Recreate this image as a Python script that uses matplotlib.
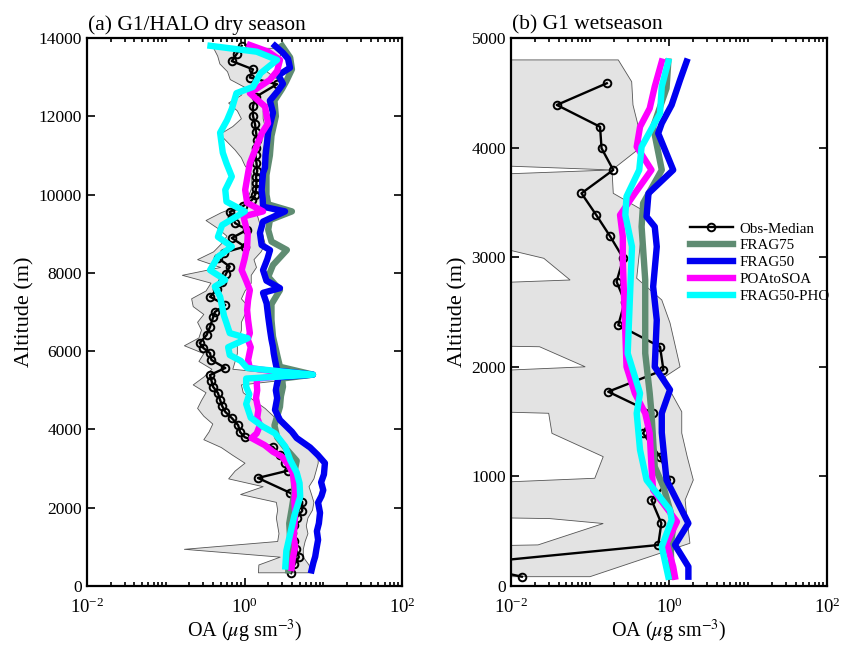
import numpy as np
import matplotlib
matplotlib.use("Agg")
import matplotlib.pyplot as plt
from matplotlib.ticker import FixedLocator, NullFormatter, LogFormatterSciNotation
from matplotlib.lines import Line2D

plt.rcParams['font.family'] = ['Liberation Serif', 'DejaVu Serif']
plt.rcParams['mathtext.fontset'] = 'stix'

# ---------------- Panel (a): G1/HALO dry season ----------------
obsA_alt = [330, 550, 740, 950, 1150, 1350, 1550, 1750, 1920, 2150, 2380, 2760, 2950, 3150, 3350, 3550,
            3800, 3930, 4110, 4290, 4450, 4600, 4750, 4930, 5085, 5250, 5390, 5570, 5775, 5950, 6080,
            6210, 6410, 6620, 6870, 7000, 7180, 7390, 7580, 7775, 7970, 8160, 8380, 8520, 8670, 8890,
            9100, 9270, 9420, 9560, 9700, 9860, 9990, 10150, 10300, 10450, 10600, 10800, 11000, 11200,
            11400, 11600, 11800, 12010, 12260, 12500, 12820, 12990, 13200, 13410, 13600, 13800]
obsA_val = [3.9, 4.3, 4.9, 4.5, 4.2, 4.0, 4.2, 4.6, 5.4, 5.4, 3.8, 1.48, 3.6, 3.3, 2.8, 2.3,
            1.01, 0.88, 0.83, 0.69, 0.57, 0.52, 0.49, 0.46, 0.40, 0.38, 0.365, 0.57, 0.38, 0.365, 0.30,
            0.27, 0.33, 0.365, 0.40, 0.42, 0.57, 0.365, 0.45, 0.52, 0.58, 0.65, 0.46, 0.55, 1.01, 0.69,
            1.08, 0.76, 0.70, 0.65, 0.95, 1.24, 1.36, 1.40, 1.42, 1.40, 1.45, 1.42, 1.38, 1.42,
            1.45, 1.40, 1.36, 1.28, 1.28, 1.40, 2.59, 1.17, 1.28, 0.69, 0.80, 0.92]

bandA_alt = [350, 550, 750, 950, 1150, 1350, 1550, 1750, 1950, 2150, 2350, 2550, 2750, 2950, 3150, 3350,
             3550, 3750, 3950, 4150, 4350, 4550, 4750, 4950, 5150, 5350, 5550, 5750, 5950, 6150, 6350,
             6550, 6750, 6950, 7150, 7350, 7550, 7750, 7950, 8150, 8350, 8550, 8750, 8950, 9150, 9350,
             9550, 9750, 9950, 10150, 10350, 10550, 10750, 10950, 11150, 11350, 11550, 11750, 11950,
             12150, 12350, 12550, 12750, 12950, 13150, 13350, 13550, 13750]
bandA_low = [1.48, 1.5, 2.8, 0.17, 2.6, 2.7, 2.6, 2.5, 2.6, 2.5, 0.88, 1.7, 0.62, 0.75, 1.0, 0.7,
             0.5, 0.30, 0.35, 0.39, 0.30, 0.25, 0.28, 0.32, 0.22, 0.30, 0.38, 0.26, 0.30, 0.17, 0.26,
             0.28, 0.25, 0.30, 0.22, 0.21, 0.32, 0.37, 0.16, 0.49, 0.25, 0.40, 0.50, 0.59, 0.45, 0.32,
             0.50, 0.90, 1.1, 1.2, 1.2, 1.2, 1.0, 0.9, 0.75, 0.6, 0.48, 0.7, 0.9,
             0.8, 0.62, 0.9, 1.0, 0.65, 0.6, 0.48, 0.45, 0.40]
bandA_high = [7.0, 6.5, 5.5, 5.5, 5.8, 6.3, 6.0, 6.3, 7.2, 7.5, 7.0, 6.5, 7.5, 8.0, 8.5, 8.5,
              6.0, 4.5, 4.0, 3.0, 2.3, 1.8, 1.3, 0.95, 0.9, 7.2, 0.7, 0.75, 0.8, 0.8, 0.85,
              0.9, 0.9, 1.0, 1.1, 0.9, 1.0, 1.2, 1.2, 1.4, 1.3, 1.6, 1.8, 1.7, 1.6, 1.5,
              1.4, 1.6, 1.8, 1.9, 1.9, 1.8, 1.8, 1.7, 1.7, 1.8, 1.8, 1.8, 1.7,
              1.7, 2.0, 2.2, 3.0, 2.6, 1.9, 2.3, 2.8, 3.0]

frag75A_alt = [400, 800, 1200, 1600, 2000, 2400, 2800, 3200, 3500, 3800, 4100, 4580, 4850, 5090, 5300,
               5400, 5600, 5900, 6370, 6800, 7200, 7560, 7900, 8200, 8585, 8800, 9100, 9350, 9570,
               9750, 10000, 10500, 11000, 11500, 12000, 12400, 12700, 12900, 13200, 13500, 13800]
frag75A_val = [3.6, 3.7, 3.8, 3.7, 4.0, 4.3, 4.2, 4.6, 3.4, 2.6, 2.4, 2.82, 2.9, 3.08, 3.0,
               7.4, 2.82, 2.6, 2.30, 2.2, 2.2, 2.82, 2.0, 2.3, 3.45, 2.2, 2.0, 2.1, 4.0,
               2.0, 1.9, 1.9, 2.1, 2.2, 2.5, 2.4, 3.0, 3.4, 4.0, 3.8, 3.0]

frag50A_alt = [400, 600, 750, 950, 1180, 1400, 1600, 1870, 2130, 2300, 2450, 2650, 2850, 3140, 3350,
               3540, 3780, 3940, 4240, 4500, 4800, 5000, 5180, 5330, 5400, 5500, 5770, 5950, 6110,
               6300, 6540, 6880, 7220, 7490, 7610, 7800, 8070, 8350, 8580, 8710, 9020, 9310, 9570,
               9690, 9900, 10120, 10550, 10690, 11000, 11240, 11600, 12090, 12400, 12650, 12830,
               13050, 13240, 13470, 13620, 13800]
frag50A_val = [7.1, 7.5, 7.9, 8.2, 8.6, 8.3, 8.8, 9.1, 8.6, 9.5, 10.0, 9.4, 10.2, 10.5, 8.5,
               6.8, 4.6, 4.0, 2.82, 2.44, 2.6, 2.5, 2.6, 2.7, 7.4, 2.6, 2.44, 2.35, 2.3,
               2.2, 2.11, 2.0, 1.91, 1.72, 2.82, 1.9, 1.72, 1.95, 2.11, 1.65, 1.57, 1.72, 3.27,
               1.72, 1.7, 1.65, 1.72, 1.82, 1.85, 1.91, 2.0, 2.30, 2.1, 2.66, 3.08,
               2.7, 3.78, 3.57, 3.08, 2.44]

poaA_alt = [460, 700, 1000, 1250, 1500, 1870, 2150, 2450, 2890, 3100, 3300, 3430, 3600, 3780, 3900,
            4110, 4300, 4500, 4800, 5000, 5180, 5300, 5400, 5570, 5770, 6100, 6300, 6460, 6800,
            7050, 7300, 7560, 7800, 8070, 8350, 8670, 9000, 9440, 9570, 9790, 10120, 10550, 10800,
            11200, 11570, 11820, 12250, 12590, 12930, 13160, 13440, 13650, 13820]
poaA_val = [3.97, 4.1, 4.4, 4.2, 4.3, 4.4, 4.3, 4.4, 4.1, 3.6, 3.0, 2.3, 1.8, 1.23, 1.43,
            1.57, 1.45, 1.5, 1.4, 1.45, 1.43, 1.45, 4.6, 1.17, 1.11, 1.2, 1.1, 1.17, 1.11,
            1.08, 1.11, 1.17, 1.05, 0.92, 1.0, 1.08, 1.1, 0.97, 1.72, 1.08, 1.02, 1.11, 1.17,
            1.4, 1.66, 1.99, 1.82, 1.17, 2.1, 2.6, 2.82, 2.0, 1.17]

phoA_alt = [500, 900, 1430, 1800, 2280, 2630, 2900, 3220, 3560, 3900, 4070, 4300, 4650, 4900, 5090,
            5300, 5400, 5570, 5750, 5900, 6100, 6330, 6460, 6720, 6900, 7050, 7390, 7650, 7820,
            8070, 8410, 8670, 8920, 9220, 9570, 9820, 10120, 10460, 10800, 11070, 11580, 11900,
            12190, 12590, 12750, 13100, 13440, 13650, 13800]
phoA_val = [3.3, 3.4, 3.9, 4.3, 5.1, 5.0, 4.6, 3.8, 3.3, 2.44, 1.72, 1.2, 1.05, 1.15, 1.05,
            1.05, 7.4, 1.08, 0.9, 0.65, 0.62, 1.1, 0.65, 0.59, 0.55, 0.53, 0.49, 0.42, 0.57,
            0.365, 0.46, 0.69, 0.46, 0.52, 1.01, 0.59, 0.57, 0.69, 0.59, 0.53, 0.49, 0.6,
            0.69, 0.79, 1.28, 1.6, 2.59, 1.43, 0.37]

# ---------------- Panel (b): G1 wet season ----------------
obsB_alt = [85, 200, 374, 572, 785, 967, 1180, 1393, 1576, 1773, 1971, 2183, 2381, 2594, 2777, 2990,
            3190, 3385, 3583, 3796, 3994, 4190, 4389, 4587]
obsB_val = [0.0137, 0.0025, 0.73, 0.80, 0.60, 1.03, 0.77, 0.47, 0.63, 0.17, 0.85, 0.77, 0.228, 0.276,
            0.217, 0.264, 0.18, 0.12, 0.078, 0.197, 0.14, 0.134, 0.038, 0.163]

# band outline: right (upper) edge bottom->top, left (lower) edge top->bottom
bandB_right_alt = [85, 390, 600, 785, 967, 1180, 1395, 1590, 1800, 1910, 2000, 2400, 2610, 2808, 3100,
                   3415, 3583, 3796, 4008, 4190, 4389, 4601, 4800]
bandB_right_val = [0.10, 1.84, 1.7, 1.6, 2.03, 1.7, 1.45, 1.45, 1.0, 0.89, 1.38, 1.03, 0.81, 0.39, 0.43,
                   0.50, 0.197, 0.19, 0.45, 0.41, 0.35, 0.337, 0.228]
bandB_left_alt = [4800, 3857, 3796, 3735, 3233, 2990, 2792, 2746, 2199, 2183, 2000, 1940, 1605, 1576,
                  1393, 1180, 983, 921, 632, 615, 570, 375, 358, 85]
bandB_left_val = [0.001, 0.001, 0.19, 0.001, 0.001, 0.026, 0.056, 0.001, 0.001, 0.023, 0.087, 0.001,
                  0.001, 0.03, 0.033, 0.147, 0.115, 0.001, 0.001, 0.031, 0.147, 0.022, 0.001, 0.001]

frag75B_alt = [85, 374, 572, 906, 1088, 1576, 1758, 2123, 2792, 3278, 3492, 3796, 4190, 4541, 4785]
frag75B_val = [1.08, 1.05, 1.15, 0.85, 0.66, 0.60, 0.57, 0.50, 0.50, 0.45, 0.47, 0.81, 0.63, 0.93, 0.98]

frag50B_alt = [85, 176, 374, 572, 967, 1400, 1576, 1790, 2000, 2427, 2731, 3096, 3278, 3370, 3583,
               3796, 4130, 4222, 4389, 4617, 4785]
frag50B_val = [1.76, 1.76, 1.19, 1.76, 0.93, 0.81, 0.81, 1.03, 0.66, 0.70, 0.63, 0.70, 0.66, 0.52, 0.55,
               1.13, 0.73, 0.81, 1.08, 1.38, 1.67]

poaB_alt = [85, 176, 390, 587, 876, 1088, 1393, 1576, 1758, 2000, 2975, 3187, 3385, 3583, 3796, 4008,
            4190, 4358, 4557, 4785]
poaB_val = [1.19, 1.13, 0.93, 1.26, 0.63, 0.60, 0.57, 0.50, 0.37, 0.29, 0.26, 0.26, 0.24, 0.37, 0.60,
            0.39, 0.43, 0.57, 0.66, 0.81]

phoB_alt = [85, 358, 602, 693, 967, 1241, 1576, 1758, 2123, 3096, 3385, 3554, 3796, 4008, 4313, 4557, 4785]
phoB_val = [0.98, 0.81, 1.08, 1.03, 0.52, 0.43, 0.39, 0.43, 0.30, 0.34, 0.28, 0.29, 0.42, 0.45, 0.77,
            0.81, 0.98]

series_names = ['Obs-Median', 'FRAG75', 'FRAG50', 'POAtoSOA', 'FRAG50-PHO']
series_colors = ['black', '#5f8c72', '#0000f0', '#ff00ff', '#00ffff']

xlabel = r'OA ($\mu$g sm$^{-3}$)'

fig = plt.figure(figsize=(8.43, 6.46), dpi=100)
ax1 = fig.add_axes([87 / 843, 60 / 646, 315 / 843, 548 / 646])
ax2 = fig.add_axes([511 / 843, 60 / 646, 316 / 843, 548 / 646])

LW = 4.6
band_face = '#e3e3e3'
band_edge = '#555555'
obs_style = dict(color='black', lw=1.7, marker='o', ms=5.5, mfc='none', mec='black', mew=1.4)

# Panel (a)
ax1.fill_betweenx(bandA_alt, bandA_low, bandA_high, facecolor=band_face, edgecolor=band_edge, linewidth=0.6, zorder=1)
ax1.plot(obsA_val, obsA_alt, zorder=2, **obs_style)
ax1.plot(frag75A_val, frag75A_alt, color=series_colors[1], lw=LW, zorder=3)
ax1.plot(frag50A_val, frag50A_alt, color=series_colors[2], lw=LW, zorder=4)
ax1.plot(poaA_val, poaA_alt, color=series_colors[3], lw=LW, zorder=5)
ax1.plot(phoA_val, phoA_alt, color=series_colors[4], lw=LW, zorder=6)

# Panel (b)
bx = bandB_right_val + bandB_left_val
by = bandB_right_alt + bandB_left_alt
ax2.fill(bx, by, facecolor=band_face, edgecolor=band_edge, linewidth=0.6, zorder=1)
ax2.plot(obsB_val, obsB_alt, zorder=2, **obs_style)
ax2.plot(frag75B_val, frag75B_alt, color=series_colors[1], lw=LW, zorder=3)
ax2.plot(frag50B_val, frag50B_alt, color=series_colors[2], lw=LW, zorder=4)
ax2.plot(poaB_val, poaB_alt, color=series_colors[3], lw=LW, zorder=5)
ax2.plot(phoB_val, phoB_alt, color=series_colors[4], lw=LW, zorder=6)

for ax, ymax, ystep in [(ax1, 14000, 2000), (ax2, 5000, 1000)]:
    ax.set_xscale('log')
    ax.set_xlim(1e-2, 1e2)
    ax.set_ylim(0, ymax)
    ax.xaxis.set_major_locator(FixedLocator([1e-2, 1e0, 1e2]))
    ax.xaxis.set_major_formatter(LogFormatterSciNotation())
    minors = [m * 10.0 ** e for e in range(-2, 2) for m in range(1, 10) if not (m == 1 and e % 2 == 0)]
    ax.xaxis.set_minor_locator(FixedLocator(minors))
    ax.xaxis.set_minor_formatter(NullFormatter())
    ax.set_yticks(np.arange(0, ymax + 1, ystep))
    ax.tick_params(which='both', direction='in', top=True, right=True, width=1.2)
    ax.tick_params(axis='y', labelsize=12.5)
    ax.tick_params(axis='x', labelsize=13.5, pad=8)
    ax.tick_params(which='major', length=6)
    ax.tick_params(which='minor', length=3)
    for s in ax.spines.values():
        s.set_linewidth(1.6)
    ax.set_xlabel(xlabel, fontsize=14.5, labelpad=1)
    ax.set_ylabel('Altitude (m)', fontsize=16, labelpad=3)

ax1.text(0.003, 1.006, '(a) G1/HALO dry season', transform=ax1.transAxes, ha='left', va='bottom', fontsize=15.5)
ax2.text(0.003, 1.006, '(b) G1 wetseason', transform=ax2.transAxes, ha='left', va='bottom', fontsize=15.5)

handles = [Line2D([], [], **obs_style)]
for c in series_colors[1:]:
    handles.append(Line2D([], [], color=c, lw=LW))
ax2.legend(handles, series_names, loc='upper left', bbox_to_anchor=(0.565, 0.664), frameon=False,
           fontsize=10.8, handlelength=2.9, labelspacing=0.22, handletextpad=0.4, borderaxespad=0,
           borderpad=0)

fig.savefig('out.png', dpi=100)
